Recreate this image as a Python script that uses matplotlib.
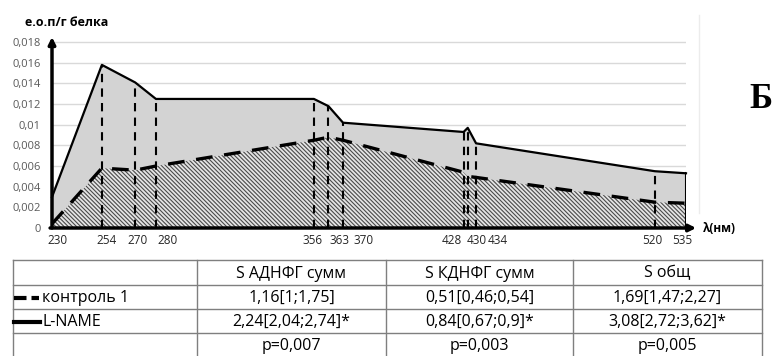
import matplotlib
matplotlib.use('Agg')
import matplotlib.pyplot as plt
from matplotlib.lines import Line2D
from matplotlib.transforms import ScaledTranslation

plt.rcParams['font.family'] = ['Open Sans', 'DejaVu Sans']
plt.rcParams['hatch.linewidth'] = 0.8

# ===== данные =====
wavelengths = [230, 254, 270, 280, 356, 363, 370, 428, 430, 434, 520, 535]
lname = [0.0030, 0.0158, 0.0141, 0.0125, 0.0125, 0.0118, 0.0102, 0.0093, 0.0097, 0.0082, 0.0055, 0.0053]
control = [0.0004, 0.0058, 0.0056, 0.0060, 0.0085, 0.0088, 0.0085, 0.0054, 0.0050, 0.0049, 0.0025, 0.0024]
drop_lines = [254, 270, 280, 356, 363, 370, 428, 430, 434, 520]
y_ticks = [0, 0.002, 0.004, 0.006, 0.008, 0.010, 0.012, 0.014, 0.016, 0.018]
y_tick_labels = ['0', '0,002', '0,004', '0,006', '0,008', '0,01', '0,012', '0,014', '0,016', '0,018']

col_headers = ['S АДНФГ сумм', 'S КДНФГ сумм', 'S общ']
row_names = ['контроль 1', 'L-NAME', '']
control_vals = ['1,16[1;1,75]', '0,51[0,46;0,54]', '1,69[1,47;2,27]']
lname_vals = ['2,24[2,04;2,74]*', '0,84[0,67;0,9]*', '3,08[2,72;3,62]*']
p_vals = ['p=0,007', 'p=0,003', 'p=0,005']

W, H = 775, 356
fig = plt.figure(figsize=(W / 100, H / 100), dpi=100)


def fx(px):
    return px / W


def fy(py):
    return 1 - py / H


# ===== график =====
ax = fig.add_axes([fx(52), fy(228), fx(686) - fx(52), fy(37) - fy(228)])
ax.set_xlim(230, 535)
ax.set_ylim(0, 0.0185)
for s in ax.spines.values():
    s.set_visible(False)

ax.set_yticks(y_ticks)
ax.set_yticklabels(y_tick_labels, fontsize=8, color='#595959')
ax.tick_params(axis='y', length=0, pad=8)
ax.yaxis.grid(True, color='#d9d9d9', lw=1)
ax.set_axisbelow(True)

ax.set_xticks(wavelengths)
ax.set_xticklabels([str(w) for w in wavelengths], fontsize=8.5, color='#262626')
ax.tick_params(axis='x', length=0, pad=4)
# подписи по оси X раздвинуты, как на исходном рисунке (сдвиг в пикселях)
shifts = {230: 5, 254: 5, 270: 2, 280: 12, 356: -1, 363: 11, 370: 21,
          428: -12, 430: 9, 434: 22, 520: -3, 535: -4}
for lab, w in zip(ax.get_xticklabels(), wavelengths):
    lab.set_transform(lab.get_transform() +
                      ScaledTranslation(shifts[w] / 100, 0, fig.dpi_scale_trans))

ax.fill_between(wavelengths, 0, lname, facecolor='#d3d3d3', edgecolor='none', zorder=1)
ax.fill_between(wavelengths, 0, control, facecolor='#e4e4e4', edgecolor='#4a4a4a',
                hatch='\\\\\\\\\\\\\\\\', linewidth=0, zorder=2)

for w in drop_lines:
    top = lname[wavelengths.index(w)]
    ax.plot([w, w], [0, top], color='black', lw=1.5, ls=(0, (4, 3)), zorder=3)
ax.plot([230, 230], [0, lname[0]], color='black', lw=1.5, zorder=3)
ax.plot([535, 535], [0, lname[-1]], color='black', lw=1.5, zorder=3)

ax.plot(wavelengths, lname, color='black', lw=1.6, zorder=4, clip_on=False)
ax.plot(wavelengths, control, color='black', lw=2.4, ls=(0, (5, 3.5)), zorder=4, clip_on=False)

# оси со стрелками
ax.annotate('', xy=(0, 1.0), xytext=(0, 0), xycoords='axes fraction',
            arrowprops=dict(arrowstyle='-|>', lw=2.5, color='black', mutation_scale=10,
                            shrinkA=0, shrinkB=0), annotation_clip=False, zorder=5)
ax.annotate('', xy=(1.016, 0), xytext=(-0.003, 0), xycoords='axes fraction',
            arrowprops=dict(arrowstyle='-|>', lw=2.5, color='black', mutation_scale=10,
                            shrinkA=0, shrinkB=0), annotation_clip=False, zorder=5)

fig.text(fx(25), fy(22), 'е.о.п/г белка', fontsize=9, fontweight='bold', va='center', ha='left')
fig.text(fx(703), fy(228), 'λ(нм)', fontsize=8.5, fontweight='bold', va='center', ha='left')
fig.text(fx(761), fy(100), 'Б', fontsize=25, fontweight='bold', family='Liberation Serif',
         va='center', ha='center')
fig.add_artist(Line2D([fx(699), fx(699)], [fy(15), fy(213)], color='#ececec', lw=1))

# ===== таблица =====
col_x = [13, 197, 386, 573, 762]
row_y = [260, 285, 309, 333, 356]
tc = '#7f7f7f'
for x in col_x:
    fig.add_artist(Line2D([fx(x), fx(x)], [fy(row_y[0]), fy(row_y[-1])], color=tc, lw=1))
for y in row_y[:-1]:
    fig.add_artist(Line2D([fx(col_x[0]), fx(col_x[-1])], [fy(y), fy(y)], color=tc, lw=1))

tfs = 11.5
for j, h in enumerate(col_headers):
    cx = (col_x[j + 1] + col_x[j + 2]) / 2
    fig.text(fx(cx), fy((row_y[0] + row_y[1]) / 2 + 1), h, fontsize=tfs, ha='center', va='center')

rows = [control_vals, lname_vals, p_vals]
for i, vals in enumerate(rows):
    cy = (row_y[i + 1] + row_y[i + 2]) / 2 + 1
    if row_names[i]:
        fig.text(fx(42), fy(cy), row_names[i], fontsize=tfs, ha='left', va='center')
    for j, v in enumerate(vals):
        cx = (col_x[j + 1] + col_x[j + 2]) / 2
        fig.text(fx(cx), fy(cy), v, fontsize=tfs, ha='center', va='center')

# значки легенды в таблице
cy1 = (row_y[1] + row_y[2]) / 2 + 1
cy2 = (row_y[2] + row_y[3]) / 2 + 1
fig.add_artist(Line2D([fx(14), fx(39)], [fy(cy1), fy(cy1)], color='black', lw=3, ls=(0, (3.0, 1.2))))
fig.add_artist(Line2D([fx(14), fx(40)], [fy(cy2), fy(cy2)], color='black', lw=3))

fig.savefig('out.png', dpi=100)
